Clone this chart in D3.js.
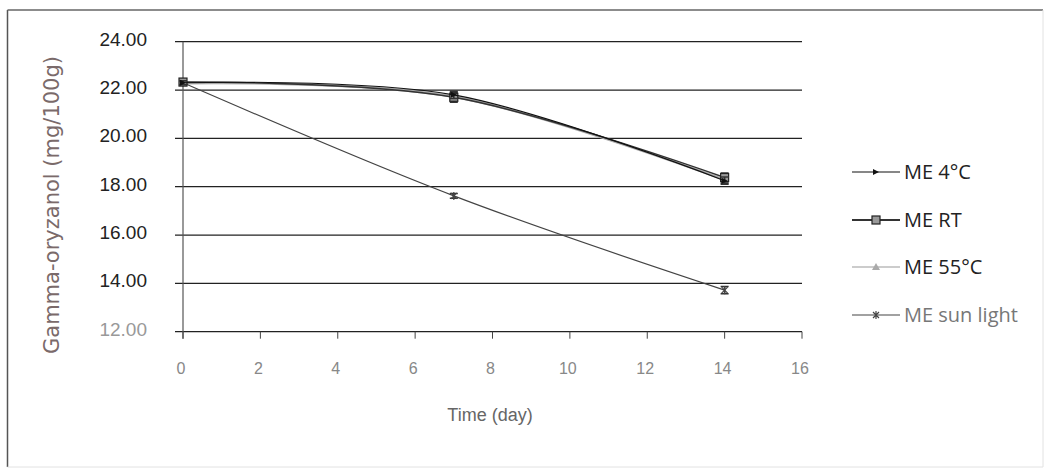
<!DOCTYPE html>
<html lang="en">
<head>
  <meta charset="UTF-8">
  <title>Gamma-oryzanol over time</title>
  <script src="https://d3js.org/d3.v7.min.js"></script>
  <style>
    body { margin: 0; background: #fff; }
    .ytick { font-family: "Liberation Sans", Arial, sans-serif; font-size: 19px; fill: #222; text-anchor: end; }
    .xtick { font-family: "Liberation Sans", Arial, sans-serif; font-size: 16px; fill: #888; text-anchor: middle; }
    .axis-title { font-family: "DejaVu Sans", sans-serif; font-size: 21px; fill: #7a6a6a; text-anchor: middle; }
    .x-title { font-family: "Liberation Sans", Arial, sans-serif; font-size: 18px; fill: #666; text-anchor: middle; }
    .legend-label { font-family: "Open Sans", sans-serif; font-size: 20px; fill: #222; }
    .grid-line { stroke: #222; stroke-width: 1.2; }
  </style>
</head>
<body>
<div id="chart"></div>
<script>
  const days = [0, 7, 14];
  const yTicks = [12, 14, 16, 18, 20, 22, 24];
  const xTicks = [0, 2, 4, 6, 8, 10, 12, 14, 16];

  // values (mg/100g) with error bar half-widths
  const me4 = [22.30, 21.80, 18.25];
  const meRT = [22.33, 21.70, 18.38];
  const me55 = [22.28, 21.72, 18.28];
  const meSun = [22.30, 17.62, 13.72];
  const err4 = [0.08, 0.15, 0.15];
  const errRT = [0.10, 0.20, 0.18];
  const err55 = [0.08, 0.15, 0.15];
  const errSun = [0.08, 0.10, 0.15];

  const seriesNames = ["ME 4°C", "ME RT", "ME 55°C", "ME sun light"];
  const seriesValues = [me4, meRT, me55, meSun];
  const seriesErrors = [err4, errRT, err55, errSun];
  const lineColors = ["#111", "#333", "#a8a8a8", "#444"];
  const lineWidths = [1.1, 1.4, 2.4, 1.2];
  const markers = ["arrow", "square", "triangle", "star"];
  const labelColors = ["#222", "#222", "#222", "#777"];

  const svgWidth = 1046, svgHeight = 468;

  const x = d3.scaleLinear().domain([0, 16]).range([183, 802]);
  const y = d3.scaleLinear().domain([12, 24]).range([331.7, 41.7]);

  const svg = d3.select("#chart").append("svg")
    .attr("width", svgWidth)
    .attr("height", svgHeight);

  // frame
  svg.append("line").attr("x1", 7.5).attr("x2", 7.5).attr("y1", 10).attr("y2", 467)
    .attr("stroke", "#555").attr("stroke-width", 1.5);
  svg.append("line").attr("x1", 7.5).attr("x2", 1043).attr("y1", 10).attr("y2", 10)
    .attr("stroke", "#666").attr("stroke-width", 1.5);
  svg.append("line").attr("x1", 1043).attr("x2", 1043).attr("y1", 10).attr("y2", 467)
    .attr("stroke", "#e2e2e2").attr("stroke-width", 1);
  svg.append("line").attr("x1", 7.5).attr("x2", 1043).attr("y1", 467).attr("y2", 467)
    .attr("stroke", "#e2e2e2").attr("stroke-width", 1);

  // horizontal grid lines (with the left tick stubs)
  svg.append("g")
    .selectAll("line")
    .data(yTicks)
    .join("line")
    .attr("class", "grid-line")
    .attr("x1", x(0) - 8)
    .attr("x2", x(16))
    .attr("y1", d => y(d))
    .attr("y2", d => y(d));

  // y axis line
  svg.append("line")
    .attr("x1", x(0)).attr("x2", x(0))
    .attr("y1", y(24)).attr("y2", y(12) + 7)
    .attr("stroke", "#555").attr("stroke-width", 1.2);

  // x axis ticks
  svg.append("g")
    .selectAll("line")
    .data(xTicks)
    .join("line")
    .attr("x1", d => x(d)).attr("x2", d => x(d))
    .attr("y1", y(12)).attr("y2", y(12) + 7)
    .attr("stroke", "#444").attr("stroke-width", 1);

  svg.append("g")
    .selectAll("text")
    .data(yTicks)
    .join("text")
    .attr("class", "ytick")
    .attr("x", 147)
    .attr("y", d => y(d) + 4)
    .style("fill", d => d === 12 ? "#999" : "#222")
    .text(d => d3.format(".2f")(d));

  svg.append("g")
    .selectAll("text")
    .data(xTicks)
    .join("text")
    .attr("class", "xtick")
    .attr("x", d => x(d) - 2)
    .attr("y", y(12) + 42)
    .text(d => d);

  svg.append("text")
    .attr("class", "x-title")
    .attr("x", 490)
    .attr("y", 421)
    .text("Time (day)");

  svg.append("text")
    .attr("class", "axis-title")
    .attr("transform", "translate(59,205) rotate(-90)")
    .text("Gamma-oryzanol (mg/100g)");

  const line = d3.line()
    .x((d, i) => x(days[i]))
    .y(d => y(d))
    .curve(d3.curveCatmullRom.alpha(0));

  function drawMarker(g, type, cx, cy, color) {
    if (type === "arrow") {
      g.append("path")
        .attr("d", `M${cx - 3},${cy - 3}L${cx + 3},${cy}L${cx - 3},${cy + 3}Z`)
        .attr("fill", color);
    } else if (type === "square") {
      g.append("rect")
        .attr("x", cx - 4).attr("y", cy - 4).attr("width", 8).attr("height", 8)
        .attr("fill", "#999").attr("stroke", "#222").attr("stroke-width", 1.2);
    } else if (type === "triangle") {
      g.append("path")
        .attr("d", `M${cx},${cy - 4}L${cx + 4},${cy + 3}L${cx - 4},${cy + 3}Z`)
        .attr("fill", "#aaa");
    } else {
      g.append("path")
        .attr("d", `M${cx - 3},${cy - 3}L${cx + 3},${cy + 3}M${cx - 3},${cy + 3}L${cx + 3},${cy - 3}M${cx},${cy - 4}L${cx},${cy + 4}`)
        .attr("stroke", color).attr("stroke-width", 1.2).attr("fill", "none");
    }
  }

  // draw the light series first so the dark ones sit on top
  const order = [2, 3, 1, 0];
  order.forEach(s => {
    const vals = seriesValues[s];
    const errs = seriesErrors[s];
    const g = svg.append("g");
    g.append("path")
      .datum(vals)
      .attr("d", line)
      .attr("fill", "none")
      .attr("stroke", lineColors[s])
      .attr("stroke-width", lineWidths[s]);

    vals.forEach((v, i) => {
      const cx = x(days[i]);
      const top = y(v + errs[i]), bot = y(v - errs[i]);
      g.append("path")
        .attr("d", `M${cx},${top}L${cx},${bot}M${cx - 4},${top}L${cx + 4},${top}M${cx - 4},${bot}L${cx + 4},${bot}`)
        .attr("stroke", "#333").attr("stroke-width", 1.6).attr("fill", "none");
      drawMarker(g, markers[s], cx, y(v), lineColors[s]);
    });
  });

  // legend
  const legendY = [172, 220, 267, 315];
  const legend = svg.append("g");
  seriesNames.forEach((name, s) => {
    const ly = legendY[s];
    legend.append("line")
      .attr("x1", 852).attr("x2", 900)
      .attr("y1", ly).attr("y2", ly)
      .attr("stroke", s === 2 ? "#999" : lineColors[s])
      .attr("stroke-width", s === 1 ? 1.8 : 1.2);
    drawMarker(legend, markers[s], 876, ly, s === 2 ? "#999" : lineColors[s]);
    legend.append("text")
      .attr("class", "legend-label")
      .attr("x", 904)
      .attr("y", ly + 7)
      .style("fill", labelColors[s])
      .text(name);
  });
</script>
</body>
</html>
